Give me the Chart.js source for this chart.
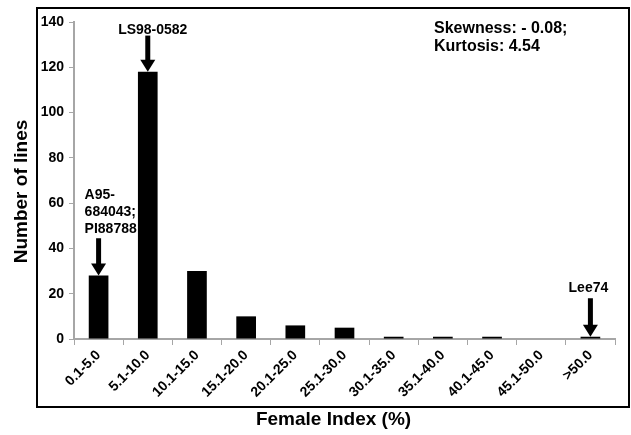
<!DOCTYPE html>
<html>
<head>
<meta charset="utf-8">
<script src="https://cdn.jsdelivr.net/npm/chart.js@4/dist/chart.umd.min.js"></script>
<style>
  html, body { margin: 0; padding: 0; background: #fff; }
  #wrap { width: 631px; height: 435px; position: relative; }
</style>
</head>
<body>
<div id="wrap"><canvas id="femaleChart" width="631" height="435"></canvas></div>
<script>
const categories = ["0.1-5.0", "5.1-10.0", "10.1-15.0", "15.1-20.0", "20.1-25.0", "25.1-30.0",
    "30.1-35.0", "35.1-40.0", "40.1-45.0", "45.1-50.0", ">50.0"];
const lineCounts = [28, 118, 30, 10, 6, 5, 1, 1, 1, 0, 1];
const yTicks = [0, 20, 40, 60, 80, 100, 120, 140];

const FONT = "'Liberation Sans', Arial, sans-serif";
const AXIS_GREY = "#a6a6a6";

// arrows + labels over the bars, axis titles, and the box around the plot
const notesPlugin = {
    id: "notes",
    afterDraw(chart) {
        const ctx = chart.ctx;
        const x = chart.scales.x;
        const y = chart.scales.y;
        const area = chart.chartArea;

        const arrow = (cx, yTop, yTip) => {
            ctx.save();
            ctx.strokeStyle = "#000";
            ctx.fillStyle = "#000";
            ctx.lineWidth = 5;
            ctx.beginPath();
            ctx.moveTo(cx, yTop);
            ctx.lineTo(cx, yTip - 10);
            ctx.stroke();
            ctx.beginPath();
            ctx.moveTo(cx - 7.5, yTip - 12);
            ctx.lineTo(cx + 7.5, yTip - 12);
            ctx.lineTo(cx, yTip);
            ctx.closePath();
            ctx.fill();
            ctx.restore();
        };

        ctx.save();
        ctx.fillStyle = "#000";
        ctx.font = "bold 14px " + FONT;
        ctx.textBaseline = "middle";

        // LS98-0582
        const c1 = x.getPixelForValue(1);
        ctx.textAlign = "center";
        ctx.fillText("LS98-0582", c1 + 5, y.getPixelForValue(136.5));
        arrow(c1, y.getPixelForValue(134), y.getPixelForValue(lineCounts[1]));

        // A95-684043; PI88788
        const c0 = x.getPixelForValue(0);
        ctx.textAlign = "left";
        ctx.fillText("A95-", c0 - 14, y.getPixelForValue(63.5));
        ctx.fillText("684043;", c0 - 14, y.getPixelForValue(56));
        ctx.fillText("PI88788", c0 - 14, y.getPixelForValue(48.5));
        arrow(c0, y.getPixelForValue(44.5), y.getPixelForValue(lineCounts[0]));

        // Lee74
        const c10 = x.getPixelForValue(10);
        ctx.textAlign = "center";
        ctx.fillText("Lee74", c10 - 2, y.getPixelForValue(22.5));
        arrow(c10, y.getPixelForValue(18), y.getPixelForValue(lineCounts[10]));

        // stats
        ctx.textAlign = "left";
        ctx.font = "bold 16px " + FONT;
        ctx.fillText("Skewness: - 0.08;", 434, 29);
        ctx.fillText("Kurtosis: 4.54", 434, 47);

        // axis titles
        ctx.font = "bold 19px " + FONT;
        ctx.textAlign = "center";
        ctx.fillText("Female Index (%)", (area.left + area.right) / 2 - 11, 420);
        ctx.save();
        ctx.translate(21.5, (area.top + area.bottom) / 2 + 11);
        ctx.rotate(-Math.PI / 2);
        ctx.fillText("Number of lines", 0, 0);
        ctx.restore();

        // outer frame
        ctx.strokeStyle = "#000";
        ctx.lineWidth = 2;
        ctx.strokeRect(37, 8, 592, 399);
        ctx.restore();
    }
};

new Chart(document.getElementById("femaleChart"), {
    type: "bar",
    data: {
        labels: categories,
        datasets: [{
            data: lineCounts,
            backgroundColor: "#000",
            borderWidth: 0,
            categoryPercentage: 1.0,
            barPercentage: 0.4
        }]
    },
    options: {
        responsive: false,
        animation: false,
        events: [],
        layout: { padding: { left: 4, right: 16, top: 22, bottom: 4 } },
        plugins: {
            legend: { display: false },
            tooltip: { enabled: false }
        },
        scales: {
            x: {
                grid: { drawOnChartArea: false, drawTicks: true, tickLength: 6, color: AXIS_GREY, offset: true },
                border: { color: AXIS_GREY, width: 2 },
                ticks: {
                    color: "#000",
                    font: { family: FONT, size: 14, weight: "bold" },
                    minRotation: 45,
                    maxRotation: 45,
                    padding: 2
                },
                afterFit(scale) { scale.height = 92; }
            },
            y: {
                min: 0,
                max: 140,
                afterBuildTicks(scale) { scale.ticks = yTicks.map(v => ({ value: v })); },
                grid: { drawOnChartArea: false, drawTicks: true, tickLength: 5, color: AXIS_GREY },
                border: { color: AXIS_GREY, width: 2 },
                ticks: {
                    color: "#000",
                    font: { family: FONT, size: 14, weight: "bold" },
                    padding: 5
                },
                afterFit(scale) { scale.width = 70; }
            }
        }
    },
    plugins: [notesPlugin]
});
</script>
</body>
</html>
